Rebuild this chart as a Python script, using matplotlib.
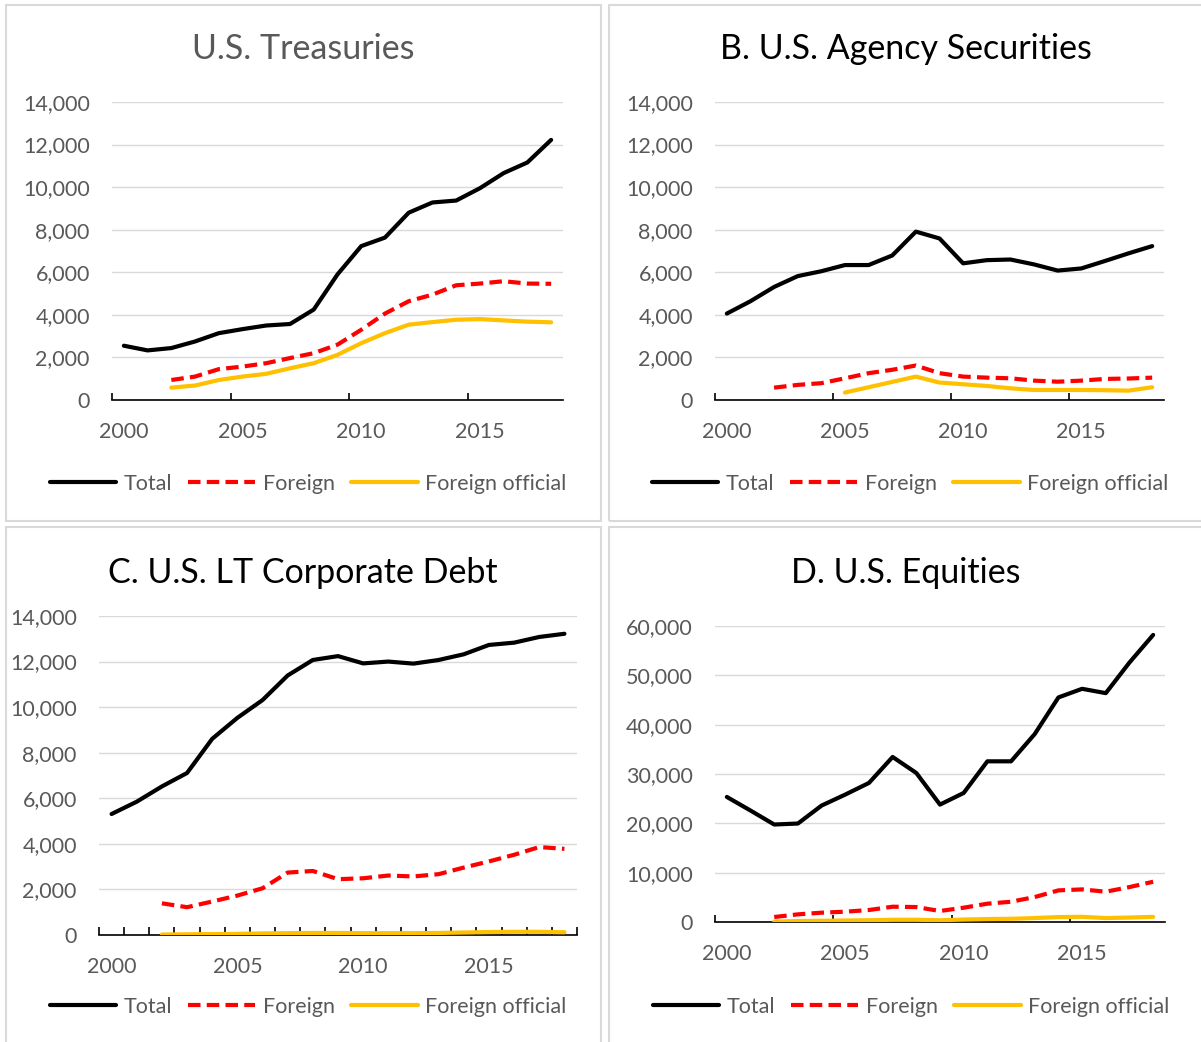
import matplotlib.pyplot as plt
import matplotlib.ticker as mticker
from matplotlib.patches import Rectangle
import numpy as np

plt.rcParams['font.family'] = ['Lato', 'DejaVu Sans']

years = list(range(2000, 2019))
nan = np.nan

# A. U.S. Treasuries
treas_total = [2550, 2330, 2440, 2750, 3140, 3330, 3500, 3570, 4250, 5900, 7230, 7630,
               8800, 9280, 9370, 9950, 10660, 11160, 12220]
treas_foreign = [nan, nan, 940, 1100, 1450, 1570, 1730, 1970, 2200, 2600, 3300, 4060,
                 4640, 4950, 5390, 5470, 5580, 5470, 5460]
treas_official = [nan, nan, 580, 680, 940, 1100, 1230, 1490, 1730, 2120, 2670, 3140,
                  3540, 3660, 3770, 3800, 3740, 3680, 3650]

# B. U.S. Agency Securities
agency_total = [4060, 4640, 5310, 5820, 6050, 6340, 6340, 6790, 7910, 7590, 6420, 6570,
                6600, 6370, 6080, 6180, 6530, 6890, 7230]
agency_foreign = [nan, nan, 580, 710, 790, 1020, 1260, 1420, 1620, 1260, 1100, 1050,
                  1020, 910, 860, 910, 990, 1010, 1050]
agency_official = [nan, nan, nan, nan, nan, 350, 600, 850, 1100, 820, 740, 660,
                   550, 470, 470, 470, 460, 440, 600]

# C. U.S. LT Corporate Debt
corp_total = [5310, 5850, 6520, 7110, 8610, 9530, 10310, 11390, 12070, 12240, 11920, 12000,
              11910, 12070, 12320, 12730, 12830, 13080, 13220]
corp_foreign = [nan, nan, 1390, 1220, 1470, 1730, 2050, 2740, 2810, 2450, 2490, 2610,
                2570, 2670, 2960, 3230, 3520, 3860, 3780]
corp_official = [nan, nan, 20, 30, 40, 50, 70, 80, 90, 90, 80, 80,
                 80, 90, 110, 130, 140, 140, 120]

# D. U.S. Equities
eq_total = [25350, 22590, 19760, 19960, 23600, 25830, 28190, 33450, 30210, 23800, 26160, 32570,
            32570, 38100, 45520, 47270, 46390, 52600, 58190]
eq_foreign = [nan, nan, 1010, 1550, 1890, 2090, 2430, 3100, 3030, 2230, 2900, 3710,
              4110, 5060, 6410, 6610, 6140, 7080, 8160]
eq_official = [nan, nan, 70, 200, 250, 300, 350, 450, 450, 350, 500, 600,
               650, 800, 1000, 1050, 800, 900, 1050]

panels = [
    ('U.S. Treasuries', treas_total, treas_foreign, treas_official, 14000, 2000),
    ('B. U.S. Agency Securities', agency_total, agency_foreign, agency_official, 14000, 2000),
    ('C. U.S. LT Corporate Debt', corp_total, corp_foreign, corp_official, 14000, 2000),
    ('D. U.S. Equities', eq_total, eq_foreign, eq_official, 60000, 10000),
]

W, H = 1201, 1042
fig = plt.figure(figsize=(W / 100, H / 100), dpi=100)


def fx(px):
    return px / W


def fy(py):
    return 1 - py / H


# axes boxes in pixels: left, right, top (ymax line), bottom (zero line)
boxes = [(112, 563, 102, 400), (715, 1164, 102, 400), (99, 577, 616, 935), (715, 1165, 626, 922)]
title_pos = [(303, 49), (906, 49), (303, 573), (906, 573)]
legend_pos = [(308, 484), (910, 484), (308, 1007), (911, 1007)]
frames = [(6, 5, 601, 521), (609, 5, 1215, 521), (6, 527, 601, 1060), (609, 527, 1215, 1060)]

grey = '#595959'
x = np.arange(len(years))

for i, (title, tot, fgn, off, ymax, step) in enumerate(panels):
    x0, y0, x1, y1 = frames[i]
    fig.patches.append(Rectangle((fx(x0), fy(y1)), fx(x1 - x0), (y1 - y0) / H,
                                 transform=fig.transFigure, fill=False,
                                 edgecolor='#d9d9d9', linewidth=1.5))

    l, r, t, b = boxes[i]
    ax = fig.add_axes([fx(l), fy(b), fx(r - l), (b - t) / H])
    ax.plot(x, tot, color='black', lw=3.0, label='Total', solid_capstyle='round')
    ax.plot(x, np.array(fgn, dtype=float), color='#ff0000', lw=3.0, ls=(0, (3.0, 1.5)), label='Foreign')
    ax.plot(x, np.array(off, dtype=float), color='#ffc000', lw=3.0, label='Foreign official',
            solid_capstyle='round')

    ax.set_xlim(-0.5, len(years) - 0.5)
    ax.set_ylim(0, ymax)
    ax.set_yticks(np.arange(0, ymax + 1, step))
    ax.yaxis.set_major_formatter(mticker.FuncFormatter(lambda v, p: f'{v:,.0f}'))
    ax.grid(axis='y', color='#d9d9d9', lw=1.0)
    ax.set_axisbelow(True)
    for s in ['left', 'right', 'top']:
        ax.spines[s].set_visible(False)
    ax.spines['bottom'].set_linewidth(1.2)
    ax.spines['bottom'].set_zorder(1)
    ax.tick_params(axis='y', length=0, pad=16, labelsize=15.5, labelcolor=grey)

    if i == 2:
        ax.set_xticks(np.arange(-0.5, len(years), 1.0))
        ax.tick_params(axis='x', which='major', direction='in', length=6, width=1.2)
    else:
        ax.set_xticks([-0.5, 4.5, 9.5, 14.5])
        ax.tick_params(axis='x', which='major', direction='in', length=5, width=1.2)
    ax.xaxis.set_major_formatter(mticker.NullFormatter())
    ax.set_xticks([0, 5, 10, 15], minor=True)
    ax.set_xticklabels([str(years[k]) for k in [0, 5, 10, 15]], minor=True)
    ax.tick_params(axis='x', which='minor', length=0, pad=16, labelsize=15.5, labelcolor=grey)

    tx, ty = title_pos[i]
    fig.text(fx(tx), fy(ty), title, ha='center', va='center', fontsize=24.5,
             color=grey if i == 0 else 'black')

    lx, ly = legend_pos[i]
    h, lab = ax.get_legend_handles_labels()
    fig.legend(h, lab, loc='center', bbox_to_anchor=(fx(lx), fy(ly)), ncol=3, frameon=False,
               fontsize=15.5, labelcolor=grey, handlelength=3.1, handletextpad=0.35,
               columnspacing=0.75, borderaxespad=0, borderpad=0)

fig.savefig('out.png', dpi=100)
